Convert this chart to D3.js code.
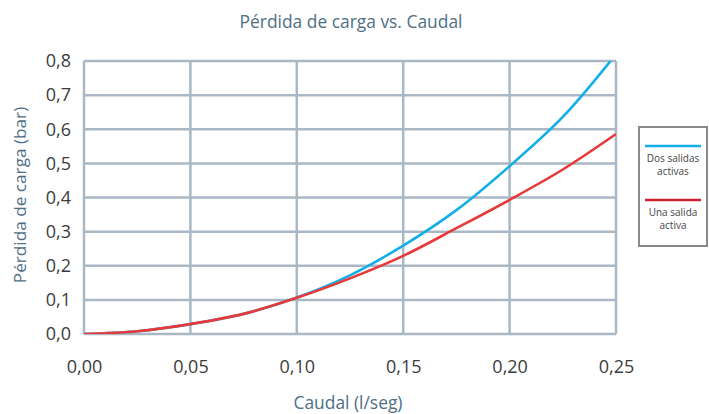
<!DOCTYPE html>
<html>
<head>
<meta charset="utf-8">
<script src="https://cdn.jsdelivr.net/npm/d3@7"></script>
<style>
  body { margin: 0; background: #fff; }
  svg { display: block; font-family: "Open Sans", sans-serif; }
</style>
</head>
<body>
<svg width="709" height="414"></svg>
<script>
// caudal (l/seg) and perdida de carga (bar)
const caudal = [0, 0.025, 0.05, 0.075, 0.1, 0.125, 0.15, 0.175, 0.2, 0.225, 0.25];
const dosSalidas = [0, 0.008, 0.029, 0.059, 0.107, 0.172, 0.259, 0.363, 0.492, 0.636, 0.82];
const unaSalida = [0, 0.008, 0.029, 0.059, 0.106, 0.163, 0.229, 0.31, 0.393, 0.482, 0.586];
const xTicks = [0, 0.05, 0.1, 0.15, 0.2, 0.25];
const yTicks = [0, 0.1, 0.2, 0.3, 0.4, 0.5, 0.6, 0.7, 0.8];
const legendLines = [["Dos salidas", "activas"], ["Una salida", "activa"]];
const seriesColors = ["#12aee6", "#e8393a"];

const svg = d3.select("svg");
const x = d3.scaleLinear([0, 0.25], [84, 616]);
const y = d3.scaleLinear([0, 0.8], [334, 61]);
const grid = "#a9b8c4";
const labelColor = "#4e6f86";
const comma = f => d => d3.format(f)(d).replace(".", ",");

svg.append("text")
  .attr("x", 351).attr("y", 28)
  .attr("text-anchor", "middle")
  .attr("fill", labelColor)
  .attr("font-size", 17.4)
  .text("Pérdida de carga vs. Caudal");

// grid
svg.append("g").selectAll("line").data(xTicks).join("line")
  .attr("x1", d => x(d)).attr("x2", d => x(d))
  .attr("y1", y(0.8)).attr("y2", y(0))
  .attr("stroke", grid).attr("stroke-width", 2.5);
svg.append("g").selectAll("line").data(yTicks).join("line")
  .attr("x1", x(0)).attr("x2", x(0.25))
  .attr("y1", d => y(d)).attr("y2", d => y(d))
  .attr("stroke", grid).attr("stroke-width", 2.5);

// axes (labels only)
const xAxis = svg.append("g")
  .attr("transform", `translate(0,${y(0) + 23})`)
  .call(d3.axisBottom(x).tickValues(xTicks).tickFormat(comma(".2f")).tickSize(0));
xAxis.select(".domain").remove();
xAxis.selectAll("text").attr("font-size", 18).attr("fill", "#3c3c3c")
  .attr("font-family", "Open Sans, sans-serif");

const yAxis = svg.append("g")
  .attr("transform", `translate(${x(0) - 10},0)`)
  .call(d3.axisLeft(y).tickValues(yTicks).tickFormat(comma(".1f")).tickSize(0));
yAxis.select(".domain").remove();
yAxis.selectAll("text").attr("font-size", 18).attr("fill", "#3c3c3c")
  .attr("font-family", "Open Sans, sans-serif");

svg.append("text")
  .attr("x", 348).attr("y", 409)
  .attr("text-anchor", "middle")
  .attr("fill", labelColor)
  .attr("font-size", 17.4)
  .text("Caudal (l/seg)");

svg.append("text")
  .attr("transform", "translate(26,195) rotate(-90)")
  .attr("text-anchor", "middle")
  .attr("fill", labelColor)
  .attr("font-size", 17.2)
  .text("Pérdida de carga (bar)");

// curves
svg.append("clipPath").attr("id", "plot")
  .append("rect").attr("x", x(0)).attr("y", y(0.8))
  .attr("width", x(0.25) - x(0)).attr("height", y(0) - y(0.8));

const line = d3.line().x(d => x(d[0])).y(d => y(d[1])).curve(d3.curveCatmullRom.alpha(0.5));
[dosSalidas, unaSalida].forEach((vals, i) => {
  svg.append("path")
    .datum(caudal.map((c, j) => [c, vals[j]]))
    .attr("clip-path", "url(#plot)")
    .attr("fill", "none")
    .attr("stroke", seriesColors[i])
    .attr("stroke-width", 2.6)
    .attr("d", line);
});

// legend
const lg = svg.append("g").attr("transform", "translate(639,127)");
lg.append("rect").attr("width", 68).attr("height", 119)
  .attr("fill", "#fff").attr("stroke", "#8a8a8a").attr("stroke-width", 2);
legendLines.forEach((txt, i) => {
  const oy = 19 + i * 54;
  lg.append("line").attr("x1", 6).attr("x2", 62).attr("y1", oy).attr("y2", oy)
    .attr("stroke", i === 0 ? seriesColors[0] : "#c8202e").attr("stroke-width", 2.5);
  txt.forEach((t, k) => {
    lg.append("text").attr("x", 34).attr("y", oy + 16 + k * 12.5)
      .attr("text-anchor", "middle").attr("font-size", 10)
      .attr("fill", "#444").text(t);
  });
});
</script>
</body>
</html>
